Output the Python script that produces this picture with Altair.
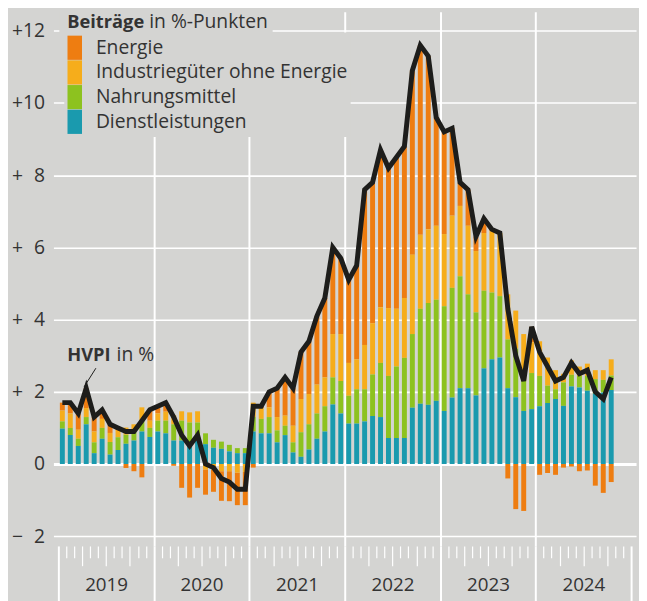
import altair as alt
import pandas as pd

# ---------------- data (monthly, Jan 2019 - Oct 2024) ----------------
START_YEAR = 2019
years = ["2019", "2020", "2021", "2022", "2023", "2024"]

categories = ["Energie", "Industriegüter ohne Energie", "Nahrungsmittel", "Dienstleistungen"]
colors = ["#ee7d11", "#f6ad1b", "#8dc21f", "#1a9aae"]
stack_order = [3, 2, 1, 0]

hvpi = [1.7, 1.7, 1.4, 2.1, 1.3, 1.5, 1.1, 1.0, 0.9, 0.9, 1.2, 1.5,
        1.6, 1.7, 1.3, 0.8, 0.5, 0.8, 0.0, -0.1, -0.4, -0.5, -0.7, -0.7,
        1.6, 1.6, 2.0, 2.1, 2.4, 2.1, 3.1, 3.4, 4.1, 4.6, 6.0, 5.7,
        5.1, 5.5, 7.6, 7.8, 8.7, 8.2, 8.5, 8.8, 10.9, 11.6, 11.3, 9.6,
        9.2, 9.3, 7.8, 7.6, 6.3, 6.8, 6.5, 6.4, 4.3, 3.0, 2.3, 3.8,
        3.1, 2.7, 2.3, 2.4, 2.8, 2.5, 2.6, 2.0, 1.8, 2.4]

dienst = [0.98, 0.8, 0.5, 1.1, 0.3, 0.7, 0.26, 0.39, 0.56, 0.65, 0.9, 0.75,
          0.9, 0.85, 0.65, 0.65, 0.6, 0.65, 0.55, 0.45, 0.42, 0.35, 0.3, 0.3,
          0.9, 0.85, 0.85, 0.6, 0.8, 0.32, 0.2, 0.4, 0.7, 0.9, 1.65, 1.4,
          1.12, 1.12, 1.18, 1.33, 1.3, 0.72, 0.72, 0.72, 1.56, 1.67, 1.64, 1.75,
          1.47, 1.84, 2.1, 2.1, 1.9, 2.65, 2.9, 2.95, 2.1, 1.85, 1.47, 1.52,
          1.6, 1.69, 1.8, 1.61, 2.15, 2.12, 2.03, 1.95, 1.98, 2.05]

nahrung = [0.2, 0.2, 0.2, 0.2, 0.3, 0.3, 0.35, 0.35, 0.25, 0.25, 0.3, 0.25,
           0.3, 0.35, 0.45, 0.55, 0.55, 0.5, 0.3, 0.22, 0.2, 0.18, 0.14, 0.14,
           0.4, 0.4, 0.45, 0.33, 0.26, 0.28, 0.68, 0.7, 0.7, 0.7, 0.75, 0.9,
           0.77, 0.95, 0.89, 1.15, 1.5, 1.72, 1.98, 2.22, 2.04, 2.63, 2.82, 2.8,
           2.9, 3.04, 3.1, 2.6, 2.3, 2.15, 1.85, 1.7, 1.35, 1.35, 0.83, 1.0,
           0.84, 0.48, 0.27, 0.65, 0.32, 0.32, 0.41, 0.4, 0.35, 0.4]

industrie = [0.3, 0.4, 0.25, 0.25, 0.3, 0.25, 0.25, 0.2, 0.2, 0.2, 0.37, 0.2,
             0.2, 0.25, 0.25, 0.26, 0.28, 0.31, -0.15, -0.15, -0.2, -0.2, -0.24, -0.22,
             0.4, 0.3, 0.27, 0.37, 0.28, 0.46, 0.92, 0.84, 0.8, 0.8, 1.2, 1.3,
             0.91, 0.83, 1.23, 1.42, 1.54, 1.88, 1.6, 1.66, 2.2, 2.05, 2.04, 2.05,
             2.0, 2.0, 1.95, 1.9, 1.7, 1.6, 1.7, 1.75, 1.25, 1.05, 1.3, 0.85,
             0.96, 0.78, 0.53, 0.24, 0.4, 0.26, 0.34, 0.25, 0.27, 0.45]

energie = [0.22, 0.3, 0.45, 0.55, 0.4, 0.25, 0.24, 0.06, -0.11, -0.2, -0.37, 0.3,
           0.2, 0.25, -0.05, -0.66, -0.93, -0.66, -0.7, -0.62, -0.82, -0.83, -0.9, -0.92,
           -0.1, 0.05, 0.43, 0.8, 1.06, 1.04, 1.3, 1.46, 1.9, 2.2, 2.4, 2.1,
           2.3, 2.6, 4.3, 3.9, 4.36, 3.88, 4.2, 4.2, 5.1, 5.25, 4.8, 3.0,
           2.83, 2.42, 0.65, 1.0, 0.4, 0.4, 0.05, 0.0, -0.4, -1.25, -1.3, 0.43,
           -0.3, -0.25, -0.3, -0.1, -0.07, -0.2, -0.18, -0.6, -0.8, -0.5]

# ---------------- tables ----------------
series = [energie, industrie, nahrung, dienst]
rows = []
for k, cat in enumerate(categories):
    for i, v in enumerate(series[k]):
        rows.append({"pos": i + 0.5, "kat": cat, "wert": v, "ord": stack_order[k]})
bars_df = pd.DataFrame(rows)
line_df = pd.DataFrame({"pos": [i + 0.5 for i in range(len(hvpi))], "wert": hvpi})
one = pd.DataFrame({"a": [0]})

n_months = 12 * len(years)
BG = "#d4d4d2"
TXT = "#333333"
FONT = "Open Sans"
FS = 19.5

xscale = alt.Scale(domain=[0, n_months], nice=False, zero=False)
yscale = alt.Scale(domain=[-2.27, 12.53], nice=False, zero=False)

x_axis = alt.Axis(
    values=list(range(0, n_months + 1)),
    title=None, domain=False,
    grid=True, gridColor="white", gridWidth=2,
    gridOpacity={"condition": {"test": f"datum.value % 12 === 0 && datum.value > 0 && datum.value < {n_months}", "value": 1}, "value": 0},
    ticks=True, tickColor="white",
    tickSize={"condition": [{"test": "datum.value % 12 === 0", "value": 60},
                            {"test": "datum.value % 3 === 0", "value": 20}], "value": 12},
    tickWidth={"condition": {"test": "datum.value % 12 === 0", "value": 2}, "value": 1.2},
    labelExpr=f"datum.value % 12 === 6 ? '' + ({START_YEAR} + floor(datum.value / 12)) : ''",
    labelFont=FONT, labelFontSize=19, labelColor=TXT, labelPadding=10,
    labelOverlap=False, labelFlush=False, labelBound=False,
)

y_axis = alt.Axis(
    values=list(range(-2, 13, 2)),
    title=None, domain=False, ticks=False,
    grid=True, gridColor="white",
    gridWidth={"condition": {"test": "datum.value === 0", "value": 3}, "value": 1.6},
    labelExpr="datum.value > 0 ? (datum.value >= 10 ? '+' + datum.value : '+\u2007' + datum.value) : (datum.value < 0 ? '\u2212\u2007' + abs(datum.value) : '0')",
    labelFont=FONT, labelFontSize=FS, labelColor=TXT, labelPadding=9,
)

legend = alt.Legend(
    orient="none", legendX=11, legendY=21, title=None,
    fillColor=BG, padding=3,
    symbolType="M-1,-1H0.2V1H-1Z", symbolSize=600, symbolStrokeWidth=0, symbolOpacity=1,
    labelFont=FONT, labelFontSize=FS, labelColor=TXT, labelLimit=400, labelOffset=4,
    rowPadding=0,
)

cover = alt.Chart(one).mark_rect(color=BG).encode(
    x=alt.value(6), x2=alt.value(222), y=alt.value(0), y2=alt.value(22)
)

bars = alt.Chart(bars_df).mark_bar(size=5).encode(
    x=alt.X("pos:Q", scale=xscale, axis=x_axis),
    y=alt.Y("wert:Q", stack="zero", scale=yscale, axis=y_axis),
    color=alt.Color("kat:N", scale=alt.Scale(domain=categories, range=colors), legend=legend),
    order=alt.Order("ord:Q"),
)

line = alt.Chart(line_df).mark_line(color="#1d1d1b", strokeWidth=5).encode(
    x=alt.X("pos:Q", scale=xscale, axis=x_axis),
    y=alt.Y("wert:Q", scale=yscale, axis=y_axis),
)

leader = alt.Chart(one).mark_rule(color="#1d1d1b", strokeWidth=1).encode(
    x=alt.value(43), x2=alt.value(31), y=alt.value(361), y2=alt.value(380)
)

def label(text, x, y, bold):
    return alt.Chart(one).mark_text(
        text=text, align="left", baseline="alphabetic", font=FONT,
        fontSize=18.5 if bold else FS,
        fontWeight="bold" if bold else "normal", color=TXT,
    ).encode(x=alt.value(x), y=alt.value(y))

chart = alt.layer(
    cover, bars, line, leader,
    label("Beiträge", 14, 17, True), label("in %-Punkten", 97, 17, False),
    label("HVPI", 14, 354, True), label("in %", 64, 354, False),
).properties(
    width=590, height=541,
    autosize="none",
    padding={"left": 46, "top": 0, "right": 3, "bottom": 52},
).configure(background=BG).configure_view(strokeWidth=0)

chart.save("out.html", embed_options={"renderer": "svg", "actions": False})
